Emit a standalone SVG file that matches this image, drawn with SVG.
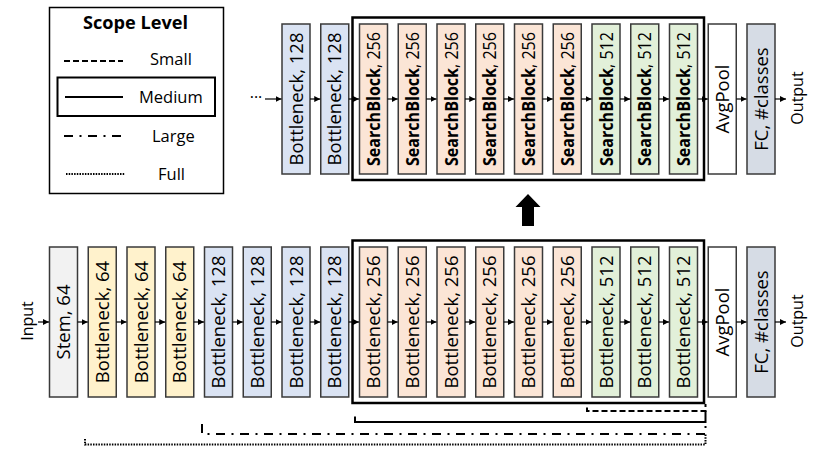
<svg xmlns="http://www.w3.org/2000/svg" width="830" height="451" viewBox="0 0 830 451">
<defs>
<marker id="ah" markerWidth="6" markerHeight="6" refX="6" refY="3" orient="auto" markerUnits="userSpaceOnUse"><path d="M0,0 L6,3 L0,6 z" fill="#000"/></marker>
<style>
.bx{stroke:#3a3a3a;stroke-width:1.5}
.stem{fill:#f2f2f2}.y{fill:#fff2cc}.b{fill:#dae3f3}.o{fill:#fbe5d6}.g{fill:#e2f0d9}.w{fill:#fff}.fc{fill:#d6dce5}
.lb{font-family:"Open Sans","Noto Sans",sans-serif;font-size:18.5px;fill:#000;text-anchor:middle}
.bd{font-weight:bold}
.io{font-family:"Open Sans","Noto Sans",sans-serif;font-size:16px;fill:#000;text-anchor:middle}
.lg{font-family:"Open Sans","Noto Sans",sans-serif;font-size:16.5px;fill:#000}
.ar{stroke:#000;stroke-width:1.2;fill:none;marker-end:url(#ah)}
.sc{fill:none;stroke:#000;stroke-width:2.5}
.ln{fill:none;stroke:#000;stroke-width:2}
.ds{stroke-dasharray:6 3}
.dd{stroke-dasharray:9 6.5 2 6.5}
.dt{stroke-dasharray:1.5 1.2}
</style>
</defs>

<g id="legend">
<rect x="49.5" y="7.5" width="174" height="186" fill="#fff" stroke="#000" stroke-width="1.5"/>
<text x="135.5" y="29" class="lg bd" style="font-size:18px" text-anchor="middle" textLength="105" lengthAdjust="spacingAndGlyphs">Scope Level</text>
<line x1="64" y1="61" x2="123" y2="61" class="ln ds"/>
<text x="150" y="65" class="lg">Small</text>
<rect x="57.5" y="77.5" width="157.5" height="38.5" fill="none" stroke="#000" stroke-width="2"/>
<line x1="65" y1="97" x2="123" y2="97" class="ln"/>
<text x="139" y="103" class="lg">Medium</text>
<line x1="64" y1="136" x2="123" y2="136" class="ln dd"/>
<text x="152" y="141.5" class="lg">Large</text>
<line x1="66" y1="174" x2="125" y2="174" class="ln dt"/>
<text x="158" y="180" class="lg">Full</text>
</g>

<g id="top-scope"><rect x="352.5" y="17.5" width="351.5" height="162.5" class="sc"/></g>
<g id="bottom-scope"><rect x="352.5" y="240.5" width="351.5" height="162.5" class="sc"/></g>

<!-- top row -->
<g id="t-b128-1"><rect x="282" y="24" width="28" height="150" class="bx b"/><text class="lb" transform="translate(302.5,99) rotate(-90)">Bottleneck, 128</text></g>
<g id="t-b128-2"><rect x="320.75" y="24" width="28" height="150" class="bx b"/><text class="lb" transform="translate(341.25,99) rotate(-90)">Bottleneck, 128</text></g>
<g id="t-sb256-1"><rect x="359.5" y="24" width="28" height="150" class="bx o"/><text class="lb" transform="translate(380,99) rotate(-90)" textLength="134" lengthAdjust="spacingAndGlyphs"><tspan class="bd">SearchBlock</tspan>, 256</text></g>
<g id="t-sb256-2"><rect x="398.25" y="24" width="28" height="150" class="bx o"/><text class="lb" transform="translate(418.75,99) rotate(-90)" textLength="134" lengthAdjust="spacingAndGlyphs"><tspan class="bd">SearchBlock</tspan>, 256</text></g>
<g id="t-sb256-3"><rect x="437" y="24" width="28" height="150" class="bx o"/><text class="lb" transform="translate(457.5,99) rotate(-90)" textLength="134" lengthAdjust="spacingAndGlyphs"><tspan class="bd">SearchBlock</tspan>, 256</text></g>
<g id="t-sb256-4"><rect x="475.75" y="24" width="28" height="150" class="bx o"/><text class="lb" transform="translate(496.25,99) rotate(-90)" textLength="134" lengthAdjust="spacingAndGlyphs"><tspan class="bd">SearchBlock</tspan>, 256</text></g>
<g id="t-sb256-5"><rect x="514.5" y="24" width="28" height="150" class="bx o"/><text class="lb" transform="translate(535,99) rotate(-90)" textLength="134" lengthAdjust="spacingAndGlyphs"><tspan class="bd">SearchBlock</tspan>, 256</text></g>
<g id="t-sb256-6"><rect x="553.25" y="24" width="28" height="150" class="bx o"/><text class="lb" transform="translate(573.75,99) rotate(-90)" textLength="134" lengthAdjust="spacingAndGlyphs"><tspan class="bd">SearchBlock</tspan>, 256</text></g>
<g id="t-sb512-1"><rect x="592" y="24" width="28" height="150" class="bx g"/><text class="lb" transform="translate(612.5,99) rotate(-90)" textLength="134" lengthAdjust="spacingAndGlyphs"><tspan class="bd">SearchBlock</tspan>, 512</text></g>
<g id="t-sb512-2"><rect x="630.75" y="24" width="28" height="150" class="bx g"/><text class="lb" transform="translate(651.25,99) rotate(-90)" textLength="134" lengthAdjust="spacingAndGlyphs"><tspan class="bd">SearchBlock</tspan>, 512</text></g>
<g id="t-sb512-3"><rect x="669.5" y="24" width="28" height="150" class="bx g"/><text class="lb" transform="translate(690,99) rotate(-90)" textLength="134" lengthAdjust="spacingAndGlyphs"><tspan class="bd">SearchBlock</tspan>, 512</text></g>
<g id="t-avgpool"><rect x="708.25" y="24" width="28" height="150" class="bx w"/><text class="lb" transform="translate(728.75,99) rotate(-90)">AvgPool</text></g>
<g id="t-fc"><rect x="747" y="24" width="28" height="150" class="bx fc"/><text class="lb" transform="translate(767.5,99) rotate(-90)">FC, #classes</text></g>
<g id="t-dots"><text x="256" y="103" class="io">···</text></g>
<g id="t-output"><text class="io" transform="translate(803,98) rotate(-90)">Output</text></g>

<!-- bottom row -->
<g id="b-input"><text class="io" transform="translate(32.5,321) rotate(-90)">Input</text></g>
<g id="b-stem"><rect x="49.5" y="247" width="28" height="150" class="bx stem"/><text class="lb" transform="translate(70,322) rotate(-90)">Stem, 64</text></g>
<g id="b-b64-1"><rect x="88.25" y="247" width="28" height="150" class="bx y"/><text class="lb" transform="translate(108.75,322) rotate(-90)">Bottleneck, 64</text></g>
<g id="b-b64-2"><rect x="127" y="247" width="28" height="150" class="bx y"/><text class="lb" transform="translate(147.5,322) rotate(-90)">Bottleneck, 64</text></g>
<g id="b-b64-3"><rect x="165.75" y="247" width="28" height="150" class="bx y"/><text class="lb" transform="translate(186.25,322) rotate(-90)">Bottleneck, 64</text></g>
<g id="b-b128-1"><rect x="204.5" y="247" width="28" height="150" class="bx b"/><text class="lb" transform="translate(225,322) rotate(-90)">Bottleneck, 128</text></g>
<g id="b-b128-2"><rect x="243.25" y="247" width="28" height="150" class="bx b"/><text class="lb" transform="translate(263.75,322) rotate(-90)">Bottleneck, 128</text></g>
<g id="b-b128-3"><rect x="282" y="247" width="28" height="150" class="bx b"/><text class="lb" transform="translate(302.5,322) rotate(-90)">Bottleneck, 128</text></g>
<g id="b-b128-4"><rect x="320.75" y="247" width="28" height="150" class="bx b"/><text class="lb" transform="translate(341.25,322) rotate(-90)">Bottleneck, 128</text></g>
<g id="b-b256-1"><rect x="359.5" y="247" width="28" height="150" class="bx o"/><text class="lb" transform="translate(380,322) rotate(-90)">Bottleneck, 256</text></g>
<g id="b-b256-2"><rect x="398.25" y="247" width="28" height="150" class="bx o"/><text class="lb" transform="translate(418.75,322) rotate(-90)">Bottleneck, 256</text></g>
<g id="b-b256-3"><rect x="437" y="247" width="28" height="150" class="bx o"/><text class="lb" transform="translate(457.5,322) rotate(-90)">Bottleneck, 256</text></g>
<g id="b-b256-4"><rect x="475.75" y="247" width="28" height="150" class="bx o"/><text class="lb" transform="translate(496.25,322) rotate(-90)">Bottleneck, 256</text></g>
<g id="b-b256-5"><rect x="514.5" y="247" width="28" height="150" class="bx o"/><text class="lb" transform="translate(535,322) rotate(-90)">Bottleneck, 256</text></g>
<g id="b-b256-6"><rect x="553.25" y="247" width="28" height="150" class="bx o"/><text class="lb" transform="translate(573.75,322) rotate(-90)">Bottleneck, 256</text></g>
<g id="b-b512-1"><rect x="592" y="247" width="28" height="150" class="bx g"/><text class="lb" transform="translate(612.5,322) rotate(-90)">Bottleneck, 512</text></g>
<g id="b-b512-2"><rect x="630.75" y="247" width="28" height="150" class="bx g"/><text class="lb" transform="translate(651.25,322) rotate(-90)">Bottleneck, 512</text></g>
<g id="b-b512-3"><rect x="669.5" y="247" width="28" height="150" class="bx g"/><text class="lb" transform="translate(690,322) rotate(-90)">Bottleneck, 512</text></g>
<g id="b-avgpool"><rect x="708.25" y="247" width="28" height="150" class="bx w"/><text class="lb" transform="translate(728.75,322) rotate(-90)">AvgPool</text></g>
<g id="b-fc"><rect x="747" y="247" width="28" height="150" class="bx fc"/><text class="lb" transform="translate(767.5,322) rotate(-90)">FC, #classes</text></g>
<g id="b-output"><text class="io" transform="translate(803,321) rotate(-90)">Output</text></g>

<g id="connectors">
<path class="ar" d="M265,99H281.5"/>
<path class="ar" d="M310,99H320.25"/>
<path class="ar" d="M348.75,99H359"/>
<path class="ar" d="M387.5,99H397.75"/>
<path class="ar" d="M426.25,99H436.5"/>
<path class="ar" d="M465,99H475.25"/>
<path class="ar" d="M503.75,99H514"/>
<path class="ar" d="M542.5,99H552.75"/>
<path class="ar" d="M581.25,99H591.5"/>
<path class="ar" d="M620,99H630.25"/>
<path class="ar" d="M658.75,99H669"/>
<path class="ar" d="M697.5,99H707.75"/>
<path class="ar" d="M736.25,99H746.5"/>
<path class="ar" d="M775,99H786"/>

<path class="ar" d="M38,322H49"/>
<path class="ar" d="M77.5,322H87.75"/>
<path class="ar" d="M116.25,322H126.5"/>
<path class="ar" d="M155,322H165.25"/>
<path class="ar" d="M193.75,322H204"/>
<path class="ar" d="M232.5,322H242.75"/>
<path class="ar" d="M271.25,322H281.5"/>
<path class="ar" d="M310,322H320.25"/>
<path class="ar" d="M348.75,322H359"/>
<path class="ar" d="M387.5,322H397.75"/>
<path class="ar" d="M426.25,322H436.5"/>
<path class="ar" d="M465,322H475.25"/>
<path class="ar" d="M503.75,322H514"/>
<path class="ar" d="M542.5,322H552.75"/>
<path class="ar" d="M581.25,322H591.5"/>
<path class="ar" d="M620,322H630.25"/>
<path class="ar" d="M658.75,322H669"/>
<path class="ar" d="M697.5,322H707.75"/>
<path class="ar" d="M736.25,322H746.5"/>
<path class="ar" d="M775,322H786"/>

<polygon points="528,194 540.5,207 534,207 534,226 522,226 522,207 515.5,207" fill="#000"/>

<path class="ln ds" d="M587,407.5V411H705.5V404"/>
<path class="ln" d="M355,416.5V422H705.5V411"/>
<path class="ln dd" d="M202,424V434H705.5V422"/>
<path class="ln dt" d="M85,439V444.5H705.5V434"/>
</g>
</svg>
